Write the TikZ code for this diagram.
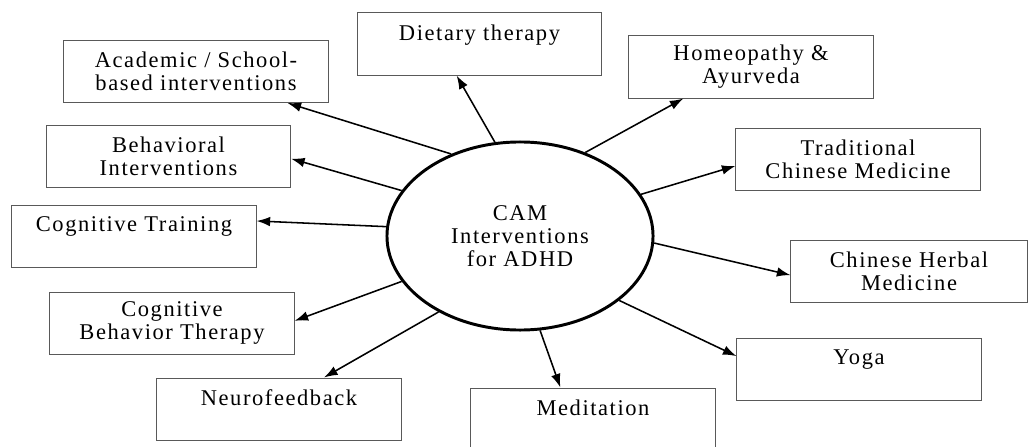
\documentclass[tikz,border=0pt]{standalone}
\usepackage{fontspec}
\setmainfont{Liberation Serif}[LetterSpace=7]
\usetikzlibrary{arrows.meta,shapes.geometric}

\begin{document}
\begin{tikzpicture}[x=0.025cm,y=-0.025cm,
  box/.style={draw=black!65,line width=0.7pt,minimum width=6.1cm,minimum height=1.55cm,
    inner sep=0pt,align=center,font=\fontsize{16}{16.4}\selectfont},
  hub/.style={ellipse,draw,line width=2.1pt,minimum width=6.65cm,minimum height=4.7cm,
    inner sep=0pt,align=center,font=\fontsize{16}{16.4}\selectfont},
  arr/.style={-{Latex[length=3.4mm,width=2.4mm]},line width=1.1pt}]

\useasboundingbox (0,0) rectangle (1029,446);

\node[hub] (cam) at (520,236) {CAM\\Interventions\\for ADHD};

\node[box,minimum width=6.6cm] (acad) at (196,71.5) {Academic / School-\\based interventions};
\node[box] (diet) at (479.5,44) {Dietary therapy\\~};
\node[box] (homeo) at (751,67) {Homeopathy \&\\Ayurveda};
\node[box] (behav) at (168.5,156.5) {Behavioral\\Interventions};
\node[box] (tcm) at (858,159.5) {Traditional\\Chinese Medicine};
\node[box] (cogtr) at (134,236) {Cognitive Training\\~};
\node[box,minimum width=5.9cm] (herbal) at (909,271) {Chinese Herbal\\Medicine};
\node[box] (cbt) at (172,323) {Cognitive\\Behavior Therapy};
\node[box] (yoga) at (859,369) {Yoga\\~};
\node[box] (neuro) at (279,409) {Neurofeedback\\~};
\node[box] (medit) at (593,419) {Meditation\\~};

\draw[arr] (cam.130) -- (acad.-19);
\draw[arr] (cam.105) -- (diet.-126);
\draw[arr] (cam.52) -- (homeo.205);
\draw[arr] (cam.19) -- (tcm.183);
\draw[arr] (cam.159) -- (behav.-1);
\draw[arr] (cam.176) -- (cogtr.7);
\draw[arr] (cam.201) -- (cbt.1);
\draw[arr] (cam.223) -- (neuro.35);
\draw[arr] (cam.-78) -- (medit.136);
\draw[arr] (cam.-33) -- (yoga.174);
\draw[arr] (cam.-3) -- (herbal.182);

\end{tikzpicture}
\end{document}
